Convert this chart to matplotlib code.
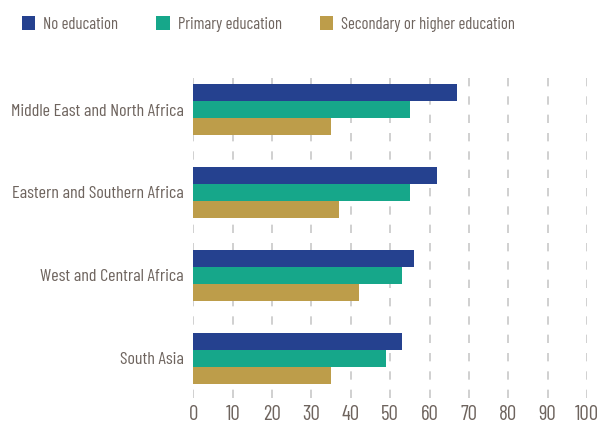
import matplotlib.pyplot as plt
import numpy as np

regions = [
    "Middle East and North Africa",
    "Eastern and Southern Africa",
    "West and Central Africa",
    "South Asia",
]
series_names = ["No education", "Primary education", "Secondary or higher education"]
no_education = [67, 62, 56, 53]
primary = [55, 55, 53, 49]
secondary = [35, 37, 42, 35]
x_ticks = list(range(0, 101, 10))

colors = ["#25418F", "#16A78A", "#BD9D4A"]
text_color = "#6E645E"

plt.rcParams["font.family"] = ["Barlow Condensed", "DejaVu Sans"]


def main():
    fig = plt.figure(figsize=(6.02, 4.23), dpi=100)
    ax = fig.add_axes([0.3211, 0.0591, 0.654, 0.780])

    y = np.arange(len(regions))[::-1].astype(float)
    h = 0.205
    for vals, off, col, name in zip(
        [no_education, primary, secondary], [h, 0, -h], colors, series_names
    ):
        ax.barh(y + off, vals, height=h, color=col, label=name, zorder=3)

    ax.set_xlim(0, 100)
    ax.set_ylim(-0.48, 3.5)
    ax.set_xticks(x_ticks)
    ax.set_xticklabels([str(t) for t in x_ticks], fontsize=15, color=text_color)
    ax.set_yticks(y)
    ax.set_yticklabels(regions, fontsize=13, color=text_color)
    ax.tick_params(axis="x", length=0, pad=5)
    ax.tick_params(axis="y", length=0, pad=7)
    for s in ax.spines.values():
        s.set_visible(False)
    ax.grid(axis="x", color="#C8C8C8", linestyle=(0, (5, 6)), linewidth=1.2, zorder=0)

    handles, labels = ax.get_legend_handles_labels()
    fig.legend(
        handles, labels, ncol=3, loc="upper left", bbox_to_anchor=(0.036, 0.962),
        frameon=False, fontsize=12, handlelength=0.8, handleheight=0.95,
        handletextpad=0.48, columnspacing=2.3, labelcolor=text_color,
        borderaxespad=0, borderpad=0,
    )
    fig.savefig("out.png", dpi=100)


if __name__ == "__main__":
    main()
